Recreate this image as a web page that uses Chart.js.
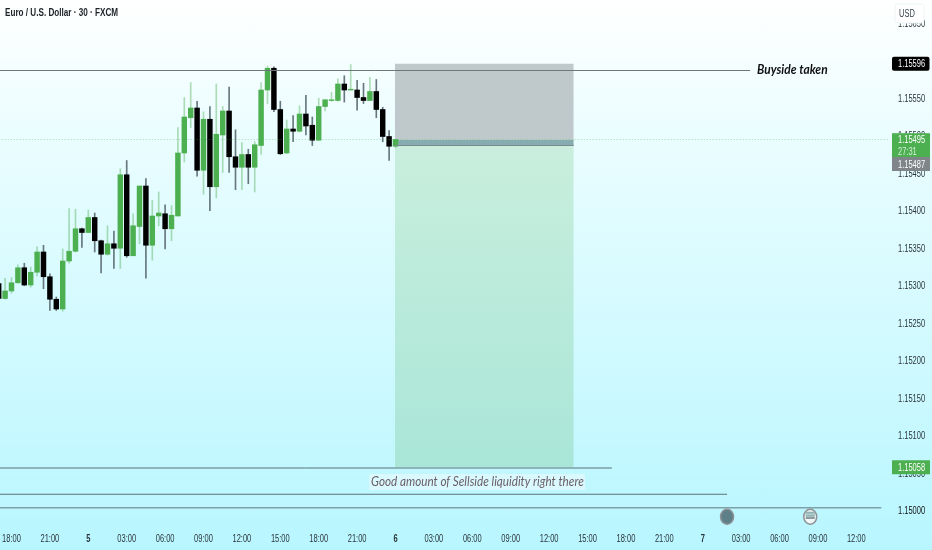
<!DOCTYPE html>
<html>
<head>
<meta charset="utf-8">
<script src="https://cdn.jsdelivr.net/npm/chart.js@4"></script>
<style>
html,body{margin:0;padding:0;width:932px;height:550px;overflow:hidden;background:linear-gradient(180deg,#ffffff 0%,#eafdff 25%,#d2faff 60%,#b8f6ff 100%);}
canvas{display:block;}
</style>
</head>
<body>
<canvas id="c" width="932" height="550"></canvas>
<script>
const opens  = [1.15303,1.15283,1.15293,1.15304,1.15324,1.15301,1.15318,1.15345,1.15312,1.15282,1.15269,1.15333,1.15346,1.15376,1.15371,1.15391,1.15360,1.15342,1.15356,1.15350,1.15448,1.15340,1.15379,1.15433,1.15354,1.15393,1.15396,1.15376,1.15393,1.15477,1.15524,1.15537,1.15454,1.15522,1.15432,1.15501,1.15533,1.15472,1.15458,1.15475,1.15458,1.15487,1.15561,1.15590,1.15535,1.15477,1.15509,1.15506,1.15529,1.15514,1.15494,1.15539,1.15547,1.15547,1.15569,1.15561,1.15561,1.15551,1.15547,1.15559,1.15535,1.15499,1.15486];
const highs  = [1.15308,1.15310,1.15311,1.15328,1.15330,1.15325,1.15352,1.15354,1.15316,1.15285,1.15349,1.15403,1.15402,1.15377,1.15401,1.15397,1.15361,1.15380,1.15373,1.15456,1.15467,1.15396,1.15433,1.15443,1.15414,1.15425,1.15408,1.15407,1.15511,1.15551,1.15571,1.15546,1.15532,1.15539,1.15569,1.15539,1.15565,1.15508,1.15491,1.15482,1.15492,1.15571,1.15593,1.15592,1.15546,1.15521,1.15527,1.15540,1.15554,1.15525,1.15550,1.15548,1.15558,1.15576,1.15580,1.15595,1.15574,1.15570,1.15578,1.15575,1.15538,1.15507,1.15495];
const lows   = [1.15281,1.15282,1.15290,1.15303,1.15300,1.15298,1.15313,1.15296,1.15267,1.15267,1.15266,1.15330,1.15345,1.15351,1.15371,1.15345,1.15317,1.15341,1.15323,1.15323,1.15338,1.15340,1.15356,1.15310,1.15334,1.15380,1.15349,1.15360,1.15393,1.15465,1.15511,1.15446,1.15422,1.15400,1.15417,1.15451,1.15451,1.15428,1.15428,1.15436,1.15425,1.15475,1.15543,1.15532,1.15475,1.15476,1.15492,1.15505,1.15501,1.15487,1.15494,1.15533,1.15546,1.15546,1.15545,1.15561,1.15534,1.15543,1.15547,1.15524,1.15492,1.15467,1.15484];
const closes = [1.15283,1.15293,1.15304,1.15324,1.15301,1.15318,1.15345,1.15312,1.15282,1.15269,1.15333,1.15346,1.15376,1.15371,1.15391,1.15360,1.15342,1.15356,1.15350,1.15448,1.15340,1.15380,1.15433,1.15354,1.15393,1.15397,1.15376,1.15394,1.15477,1.15525,1.15537,1.15454,1.15522,1.15432,1.15502,1.15533,1.15472,1.15458,1.15475,1.15458,1.15488,1.15561,1.15590,1.15535,1.15476,1.15509,1.15506,1.15529,1.15513,1.15494,1.15539,1.15548,1.15548,1.15569,1.15561,1.15562,1.15551,1.15547,1.15559,1.15535,1.15499,1.15486,1.15495];
const tickIndex = [2,8,14,20,26,32,38,44,50,56,62,68,74,80,86,92,98,104,110,116,122,128,134];
const tickLabels = ['18:00','21:00','5','03:00','06:00','09:00','12:00','15:00','18:00','21:00','6','03:00','06:00','09:00','12:00','15:00','18:00','21:00','7','03:00','06:00','09:00','12:00'];
const priceTicks = [1.15000,1.15050,1.15100,1.15150,1.15200,1.15250,1.15300,1.15350,1.15400,1.15450,1.15500,1.15550,1.15650];
const zoneX = [61.9,89.85];
const stopPrice = 1.15596, bandPrice = 1.15495, entryPrice = 1.15487, targetPrice = 1.15058;
const buysideLine = {price:1.15587, end:117.4};
const liquidityLines = [{price:1.15057, end:95.8},{price:1.15022, end:113.8},{price:1.15004, end:137.9}];
const eventMarks = [113.8,126.8];
const eventPrice = 1.14992;
const noteBuy = 'Buyside taken';
const noteSell = 'Good amount of Sellside liquidity right there';
const title = 'Euro / U.S. Dollar · 30 · FXCM';
const currency = 'USD';
const countdown = '27:31';

const GREEN='#4caf50', SANS='"Liberation Sans",sans-serif', LABEL='#2c353a';
const idx = opens.map((_,i)=>i);
const isUp = i => closes[i]>=opens[i];
const hline = (price,x0,x1,color,width,dash)=>({type:'line',data:[{x:x0,y:price},{x:x1,y:price}],borderColor:color,borderWidth:width,borderDash:dash||[],pointRadius:0,order:1,fill:false});
const zone = (top,bottom,x0,x1,bg)=>({type:'line',data:[{x:x0,y:top},{x:x1,y:top}],borderWidth:0,pointRadius:0,fill:{value:bottom},backgroundColor:bg,order:5});

// The reference uses a condensed face: all canvas text is squeezed horizontally
const canvas=document.getElementById('c');
const rawCtx=canvas.getContext('2d');
const rawFill=rawCtx.fillText.bind(rawCtx);
let squeeze=0.75;
rawCtx.fillText=function(t,x,y,m){rawCtx.save();rawCtx.translate(x,y+0.8);rawCtx.scale(squeeze,1);rawFill(t,0,0);rawCtx.restore();};

const overlay={id:'overlay',afterDraw(ch){
  const c=ch.ctx,X=ch.scales.x,Y=ch.scales.y;
  c.save();
  eventMarks.forEach((m,k)=>{
    const x=X.getPixelForValue(m),y=Y.getPixelForValue(eventPrice);
    c.beginPath();c.ellipse(x,y,6.5,7.5,0,0,Math.PI*2);c.fillStyle=k?'#eef6f6':'#5d7f88';c.fill();
    c.lineWidth=1.5;c.strokeStyle='#8d9296';c.stroke();
    if(k){c.fillStyle='#8fb3b4';c.fillRect(x-4.5,y-5,9,5);c.fillStyle='#6f7f84';c.fillRect(x-4.5,y+.5,9,1.5);c.fillStyle='#c9d8d8';c.fillRect(x-4.5,y-3,9,1);}
  });
  c.textBaseline='middle';c.textAlign='left';
  squeeze=0.9;
  c.font='italic 13px Lato, "Open Sans", sans-serif';
  c.fillStyle='rgba(225,250,255,.75)';c.fillRect(369,474,216,16);
  c.fillStyle='#6b5f66';c.fillText(noteSell,371,481.5);
  squeeze=0.92;
  c.font='italic bold 13px Lato, "Open Sans", sans-serif';
  c.fillStyle='#111';c.fillText(noteBuy,757,69.5);
  squeeze=0.74;
  c.font='600 11px '+SANS;c.fillStyle='#1c2226';c.fillText(title,5,12.5);
  squeeze=0.75;
  c.fillStyle='#ffffff';c.strokeStyle='#eef4f5';c.lineWidth=1;
  c.beginPath();c.roundRect(895,4,29,19,3);c.fill();c.stroke();
  c.font='10px '+SANS;c.fillStyle='#39434a';c.textAlign='center';c.fillText(currency,907,13);
  c.textAlign='left';
  const box=(x,y,w,h,bg,txt,col)=>{c.fillStyle=bg;c.fillRect(x,y,w,h);c.fillStyle=col;c.fillText(txt,x+6,y+h/2);};
  const rr=(p,h)=>Y.getPixelForValue(p)-h/2;
  c.fillStyle='#000';c.beginPath();c.roundRect(892,rr(stopPrice,14),37.5,14,2);c.fill();
  c.fillStyle='#fff';c.fillText(stopPrice.toFixed(5),898,Y.getPixelForValue(stopPrice));
  const ly=rr(bandPrice,14);
  box(892,ly+.7,38,24,GREEN,'', '#fff');
  c.fillStyle='#fff';c.fillText(bandPrice.toFixed(5),898,ly+7);
  c.fillStyle='#d9f0da';c.fillText(countdown,898,ly+19);
  box(892,157,38,14,'#7f8589',entryPrice.toFixed(5),'#fff');
  box(892,rr(targetPrice,14),38,14,GREEN,targetPrice.toFixed(5),'#fff');
  c.restore();
}};

new Chart(canvas,{
  type:'bar',
  data:{datasets:[
    {data:idx.map(i=>({x:i,y:[lows[i],highs[i]]})),barThickness:1,backgroundColor:idx.map(i=>isUp(i)?'rgba(76,175,80,.42)':'#66787e'),borderWidth:0,order:3,grouped:false},
    {data:idx.map(i=>({x:i,y:[opens[i],closes[i]]})),barThickness:4.8,backgroundColor:idx.map(i=>isUp(i)?GREEN:'#000'),borderWidth:0,order:2,grouped:false},
    zone(stopPrice,bandPrice,zoneX[0],zoneX[1],'#bfc9cb'),
    zone(bandPrice,entryPrice,zoneX[0],zoneX[1],'#86acb0'),
    zone(entryPrice,targetPrice,zoneX[0],zoneX[1],ctx=>{
      const g=ctx.chart.ctx.createLinearGradient(0,146,0,468);
      g.addColorStop(0,'#c9eedd');g.addColorStop(1,'#a9e6d8');return g;}),
    hline(bandPrice,0,139,'rgba(76,175,80,.45)',1,[1,2]),
    hline(entryPrice,zoneX[0],zoneX[1],'#7c8a90',1),
    hline(buysideLine.price,0,buysideLine.end,'#6f7679',1),
    ...liquidityLines.map((l,k)=>hline(l.price,0,l.end,k==2?'#7fa0a6':'#5d7279',k==2?1.4:1))
  ]},
  options:{
    responsive:false,animation:false,devicePixelRatio:1,
    layout:{padding:0},
    plugins:{legend:{display:false},title:{display:false},tooltip:{enabled:false}},
    scales:{
      x:{type:'linear',min:0.203,max:138.95,offset:false,
        grid:{display:false,drawTicks:false,tickLength:0},border:{display:false},
        afterFit(s){s.height=22;s.paddingLeft=0;s.paddingRight=0;},
        afterBuildTicks(s){s.ticks=tickIndex.map(v=>({value:v}));},
        ticks:{autoSkip:false,maxRotation:0,minRotation:0,padding:4,color:LABEL,
          callback:(v)=>tickLabels[tickIndex.indexOf(v)],
          font:c=>{const t=tickLabels[c.index]||'';return {family:SANS,size:10,weight:t.length<3?'bold':'normal'};}}},
      y:{type:'linear',position:'right',min:1.14977,max:1.15681,
        grid:{display:false,drawTicks:false,tickLength:0},border:{display:false},
        afterFit(s){s.width=44;s.paddingTop=0;s.paddingBottom=0;},
        afterBuildTicks(s){s.ticks=priceTicks.map(v=>({value:v}));},
        ticks:{padding:10,color:c=>c.tick&&c.tick.value===1.15?'#111':LABEL,callback:v=>v.toFixed(5),
          font:{family:SANS,size:10}}}
    }
  },
  plugins:[overlay]
});
</script>
</body>
</html>
